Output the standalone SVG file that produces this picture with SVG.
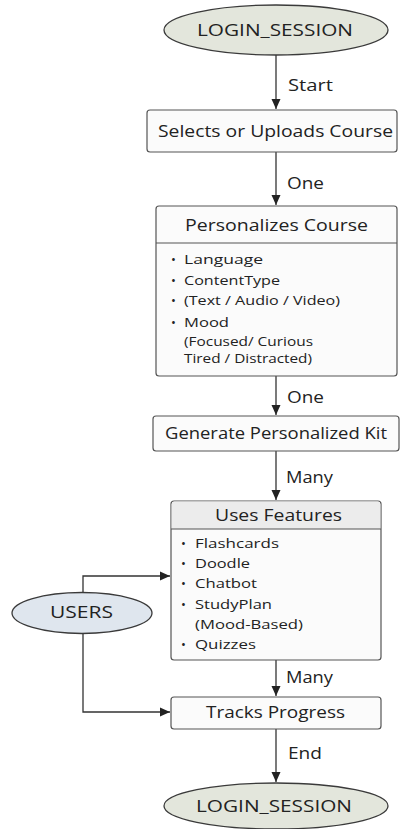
<svg xmlns="http://www.w3.org/2000/svg" width="400" height="829" viewBox="0 0 400 829">
  <defs>
    <marker id="arrow" viewBox="0 0 10 10" refX="10" refY="5" markerWidth="10" markerHeight="10" markerUnits="userSpaceOnUse" orient="auto">
      <path d="M0,0.5 L10,5 L0,9.5 z" fill="#222"/>
    </marker>
    <style>
      text { font-family: "Open Sans", "DejaVu Sans", sans-serif; fill: #222; }
      .terminal { fill: #e3e6dc; stroke: #3a3a3a; stroke-width: 1.3; }
      .actor { fill: #dfe6ee; stroke: #3a3a3a; stroke-width: 1.3; }
      .box { fill: #fbfbfb; stroke: #555; stroke-width: 1.2; }
      .head { fill: #ececec; }
      .div { stroke: #555; stroke-width: 1.2; }
      .title { font-size: 15.5px; }
      .term { font-size: 15.5px; }
      .item { font-size: 13px; }
      .lbl { font-size: 15.5px; }
      .edge { fill: none; stroke: #333; stroke-width: 1.3; marker-end: url(#arrow); }
    </style>
  </defs>
  <rect width="400" height="829" fill="#ffffff"/>

  <!-- connectors -->
  <g id="connectors">
    <path class="edge" d="M276,55 V109"/>
    <path class="edge" d="M276,152 V205"/>
    <path class="edge" d="M276,376 V415"/>
    <path class="edge" d="M276,451 V500"/>
    <path class="edge" d="M276,660 V696"/>
    <path class="edge" d="M276,729 V782"/>
    <path class="edge" d="M83,593 V576 H170"/>
    <path class="edge" d="M83,634 V712 H170"/>
    <text class="lbl" x="288" y="91" textLength="45" lengthAdjust="spacingAndGlyphs">Start</text>
    <text class="lbl" x="287" y="189" textLength="37" lengthAdjust="spacingAndGlyphs">One</text>
    <text class="lbl" x="287" y="403" textLength="37" lengthAdjust="spacingAndGlyphs">One</text>
    <text class="lbl" x="286" y="483" textLength="47" lengthAdjust="spacingAndGlyphs">Many</text>
    <text class="lbl" x="286" y="683" textLength="47" lengthAdjust="spacingAndGlyphs">Many</text>
    <text class="lbl" x="288" y="759" textLength="34" lengthAdjust="spacingAndGlyphs">End</text>
  </g>

  <g id="login-start">
    <ellipse class="terminal" cx="276" cy="30" rx="112" ry="25"/>
    <text class="term" x="197" y="36" textLength="156" lengthAdjust="spacingAndGlyphs">LOGIN_SESSION</text>
  </g>

  <g id="select-course">
    <rect class="box" x="147" y="110" width="250" height="42" rx="3"/>
    <text class="title" x="158" y="137" textLength="235" lengthAdjust="spacingAndGlyphs">Selects or Uploads Course</text>
  </g>

  <g id="personalize">
    <rect class="box" x="156" y="206" width="241" height="170" rx="3"/>
    <line class="div" x1="156" y1="243" x2="397" y2="243"/>
    <text class="title" x="185" y="231" textLength="183" lengthAdjust="spacingAndGlyphs">Personalizes Course</text>
    <g class="item">
      <text x="171" y="264">•</text><text x="184" y="264" textLength="79" lengthAdjust="spacingAndGlyphs">Language</text>
      <text x="171" y="285">•</text><text x="184" y="285" textLength="96" lengthAdjust="spacingAndGlyphs">ContentType</text>
      <text x="171" y="305">•</text><text x="184" y="305" textLength="156" lengthAdjust="spacingAndGlyphs">(Text / Audio / Video)</text>
      <text x="171" y="327">•</text><text x="184" y="327" textLength="45" lengthAdjust="spacingAndGlyphs">Mood</text>
      <text x="184" y="346" textLength="129" lengthAdjust="spacingAndGlyphs">(Focused/ Curious</text>
      <text x="184" y="363" textLength="128" lengthAdjust="spacingAndGlyphs">Tired / Distracted)</text>
    </g>
  </g>

  <g id="generate-kit">
    <rect class="box" x="153" y="416" width="246" height="35" rx="3"/>
    <text class="title" x="165" y="439" textLength="222" lengthAdjust="spacingAndGlyphs">Generate Personalized Kit</text>
  </g>

  <g id="uses-features">
    <rect class="box" x="171" y="501" width="210" height="159" rx="3"/>
    <path class="head" d="M171.6,529 V504 a3,3 0 0 1 3,-2.4 H377.4 a3,3 0 0 1 3,2.4 V529 z"/>
    <line class="div" x1="171" y1="529" x2="381" y2="529"/>
    <text class="title" x="215" y="521" textLength="127" lengthAdjust="spacingAndGlyphs">Uses Features</text>
    <g class="item">
      <text x="181" y="548">•</text><text x="195" y="548" textLength="84" lengthAdjust="spacingAndGlyphs">Flashcards</text>
      <text x="181" y="568">•</text><text x="195" y="568" textLength="55" lengthAdjust="spacingAndGlyphs">Doodle</text>
      <text x="181" y="588">•</text><text x="195" y="588" textLength="62" lengthAdjust="spacingAndGlyphs">Chatbot</text>
      <text x="181" y="609">•</text><text x="195" y="609" textLength="77" lengthAdjust="spacingAndGlyphs">StudyPlan</text>
      <text x="195" y="629" textLength="108" lengthAdjust="spacingAndGlyphs">(Mood-Based)</text>
      <text x="181" y="649">•</text><text x="195" y="649" textLength="61" lengthAdjust="spacingAndGlyphs">Quizzes</text>
    </g>
  </g>

  <g id="users">
    <ellipse class="actor" cx="82" cy="613" rx="70" ry="20.5"/>
    <text class="term" x="50" y="618" textLength="63" lengthAdjust="spacingAndGlyphs" style="font-size:16.5px">USERS</text>
  </g>

  <g id="tracks-progress">
    <rect class="box" x="171" y="697" width="210" height="32" rx="3"/>
    <text class="title" x="206" y="718" textLength="139" lengthAdjust="spacingAndGlyphs">Tracks Progress</text>
  </g>

  <g id="login-end">
    <ellipse class="terminal" cx="276" cy="806" rx="112" ry="23"/>
    <text class="term" x="196" y="812" textLength="156" lengthAdjust="spacingAndGlyphs">LOGIN_SESSION</text>
  </g>
</svg>
